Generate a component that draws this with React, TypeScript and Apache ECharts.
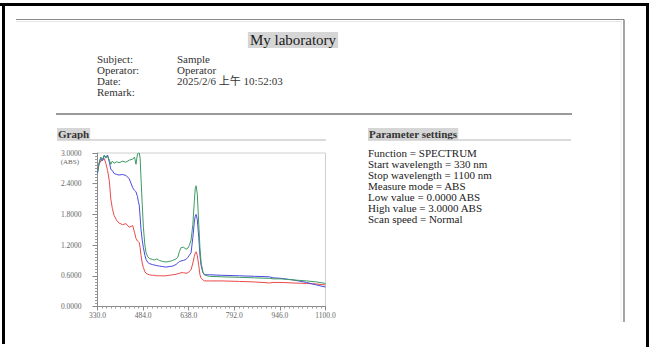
import React, { useEffect, useRef } from "react";
import * as echarts from "echarts";

const X_MIN = 330;
const X_MAX = 1100;
const X_STEP = 154;

const WL = [330, 335, 341, 347, 353, 358, 364, 370, 375, 380, 386, 395, 403, 415, 426, 437, 449, 455, 460, 465, 468, 471, 474, 477, 481, 485, 490, 494, 500, 505, 515, 522, 530, 539, 550, 561, 572, 584, 595, 601, 607, 612, 620, 629, 635, 640, 646, 652, 657, 660, 663, 667, 672, 676, 680, 686, 691, 700, 708, 750, 810, 860, 911, 923, 950, 990, 1036, 1070, 1100];

const GREEN = [2.62, 2.8, 2.92, 2.88, 2.96, 2.9, 2.94, 2.86, 2.78, 2.84, 2.8, 2.83, 2.81, 2.84, 2.82, 2.86, 2.88, 2.92, 2.78, 2.98, 3.0, 3.0, 2.9, 2.5, 2.0, 1.55, 1.2, 1.05, 0.97, 0.94, 0.92, 0.91, 0.93, 0.9, 0.88, 0.87, 0.88, 0.9, 0.93, 0.96, 1.08, 1.15, 1.16, 1.12, 1.14, 1.19, 1.3, 1.6, 2.05, 2.3, 2.36, 2.2, 1.6, 1.15, 0.85, 0.68, 0.62, 0.6, 0.59, 0.58, 0.57, 0.56, 0.55, 0.54, 0.54, 0.52, 0.5, 0.48, 0.45];

const BLUE = [2.6, 2.78, 2.9, 2.85, 2.95, 2.92, 2.96, 2.82, 2.68, 2.66, 2.6, 2.58, 2.57, 2.58, 2.56, 2.5, 2.32, 2.27, 2.24, 2.15, 2.05, 1.98, 1.75, 1.5, 1.3, 1.15, 1.0, 0.92, 0.86, 0.84, 0.82, 0.81, 0.8, 0.79, 0.78, 0.77, 0.78, 0.79, 0.82, 0.85, 0.88, 0.89, 0.9, 0.92, 0.96, 1.0, 1.05, 1.35, 1.65, 1.76, 1.8, 1.7, 1.35, 1.0, 0.8, 0.66, 0.62, 0.62, 0.62, 0.61, 0.6, 0.59, 0.58, 0.56, 0.55, 0.52, 0.47, 0.42, 0.38];

const RED = [2.7, 2.78, 2.84, 2.87, 2.89, 2.8, 2.66, 2.45, 2.1, 1.92, 1.78, 1.68, 1.63, 1.6, 1.62, 1.55, 1.58, 1.45, 1.33, 1.28, 1.27, 1.25, 1.15, 1.0, 0.85, 0.76, 0.68, 0.65, 0.63, 0.62, 0.61, 0.61, 0.6, 0.6, 0.6, 0.6, 0.61, 0.62, 0.63, 0.64, 0.65, 0.66, 0.66, 0.65, 0.66, 0.68, 0.72, 0.85, 0.98, 1.04, 1.07, 1.0, 0.8, 0.62, 0.55, 0.52, 0.5, 0.5, 0.5, 0.5, 0.49, 0.48, 0.46, 0.47, 0.47, 0.46, 0.45, 0.44, 0.42];

const TITLE = "My laboratory";
const INFO_LABELS = ["Subject:", "Operator:", "Date:", "Remark:"];
const INFO_VALUES = ["Sample", "Operator", "2025/2/6 上午 10:52:03", ""];
const GRAPH_HEADING = "Graph";
const PARAM_HEADING = "Parameter settings";
const PARAMS = [
  "Function = SPECTRUM",
  "Start wavelength = 330 nm",
  "Stop wavelength = 1100 nm",
  "Measure mode = ABS",
  "Low value = 0.0000 ABS",
  "High value = 3.0000 ABS",
  "Scan speed = Normal",
];
const Y_UNIT = "(ABS)";

export default function App() {
  const ref = useRef<HTMLDivElement>(null);
  useEffect(() => {
    const chart = echarts.init(ref.current!, null, { renderer: "svg" });
    const serif = '"Liberation Serif", "Times New Roman", "Noto Sans CJK SC", serif';
    const g: any[] = [];
    const rect = (x: number, y: number, w: number, h: number, fill: string) =>
      g.push({ type: "rect", silent: true, shape: { x, y, width: w, height: h }, style: { fill } });
    const line = (x1: number, y1: number, x2: number, y2: number, stroke: string, lw: number) =>
      g.push({ type: "line", silent: true, shape: { x1, y1, x2, y2 }, style: { stroke, lineWidth: lw } });
    const text = (t: string, x: number, y: number, font: string, fill: string, align = "left", extra: any = {}) =>
      g.push({
        type: "text",
        silent: true,
        x,
        y,
        style: { text: t, font, fill, textAlign: align, textVerticalAlign: "middle", ...extra },
      });

    // outer black frame
    rect(0, 3, 649, 3, "#000");
    rect(2, 3, 3, 341, "#000");
    rect(646, 3, 3, 344, "#000");
    // page border
    line(16, 19.5, 624, 19.5, "#8a8a8a", 1);
    line(16, 21.5, 622, 21.5, "#e6e6e6", 1);
    line(624, 19.5, 624, 322, "#6a6a6a", 1.2);
    line(621, 22, 621, 322, "#eeeeee", 1);

    // title
    text(TITLE, 293, 40, `15px ${serif}`, "#1a1a1a", "center", {
      backgroundColor: "#d6d6d6",
      padding: [1, 2, 0, 2],
    });
    INFO_LABELS.forEach((l, i) => {
      text(l, 97, 59 + i * 11, `11px ${serif}`, "#333", "left");
      if (INFO_VALUES[i]) text(INFO_VALUES[i], 177, 59 + i * 11, `11px ${serif}`, "#333", "left");
    });
    line(56, 114, 572, 114, "#9a9a9a", 2);

    // section headings
    text(GRAPH_HEADING, 57, 134, `bold 11px ${serif}`, "#333", "left", {
      backgroundColor: "#d6d6d6",
      padding: [1, 1, 0, 1],
    });
    line(57, 140, 326, 140, "#cfcfcf", 1.5);
    text(PARAM_HEADING, 368, 134, `bold 11px ${serif}`, "#333", "left", {
      backgroundColor: "#d6d6d6",
      padding: [1, 1, 0, 1],
    });
    line(368, 140, 571, 140, "#cfcfcf", 1.5);
    PARAMS.forEach((p, i) => text(p, 368, 153 + i * 11, `11px ${serif}`, "#222", "left"));

    text(Y_UNIT, 79, 161.5, `7px ${serif}`, "#666", "right");

    const mk = (vals: number[]) => WL.map((w, i) => [w - X_MIN, vals[i]]);
    const series = [
      { name: "red", data: mk(RED), color: "#ea4a4a" },
      { name: "blue", data: mk(BLUE), color: "#4a4ade" },
      { name: "green", data: mk(GREEN), color: "#3f9a62" },
    ].map((s) => ({
      type: "line",
      name: s.name,
      data: s.data,
      showSymbol: false,
      symbol: "none",
      lineStyle: { width: 1, color: s.color },
      itemStyle: { color: s.color },
      silent: true,
      clip: true,
    }));

    chart.setOption({
      animation: false,
      backgroundColor: "#ffffff",
      grid: {
        left: 97.5,
        right: 649 - 325.5,
        top: 153,
        bottom: 347 - 306.5,
        show: true,
        borderColor: "#cfcfcf",
        borderWidth: 1,
      },
      xAxis: {
        type: "value",
        min: 0,
        max: X_MAX - X_MIN,
        interval: X_STEP,
        axisLine: { show: true, lineStyle: { color: "#8a8a8a", width: 1 } },
        axisTick: { show: true, length: 4, lineStyle: { color: "#8a8a8a" } },
        minorTick: { show: true, splitNumber: 10, length: 2, lineStyle: { color: "#9a9a9a" } },
        splitLine: { show: false },
        axisLabel: {
          margin: 5,
          fontFamily: serif,
          fontSize: 7.5,
          color: "#666",
          formatter: (v: number) => (v + X_MIN).toFixed(1),
        },
      },
      yAxis: {
        type: "value",
        min: 0,
        max: 3,
        interval: 0.6,
        axisLine: { show: true, lineStyle: { color: "#8a8a8a", width: 1 } },
        axisTick: { show: true, length: 5, lineStyle: { color: "#8a8a8a" } },
        minorTick: { show: true, splitNumber: 10, length: 2.5, lineStyle: { color: "#9a9a9a" } },
        splitLine: { show: false },
        axisLabel: {
          margin: 16,
          fontFamily: serif,
          fontSize: 7.5,
          color: "#666",
          formatter: (v: number) => v.toFixed(4),
        },
      },
      series,
      graphic: g,
    });
    return () => chart.dispose();
  }, []);
  return (
    <div
      ref={ref}
      style={{ position: "fixed", left: 0, top: 0, width: 649, height: 347, background: "#fff" }}
    />
  );
}
